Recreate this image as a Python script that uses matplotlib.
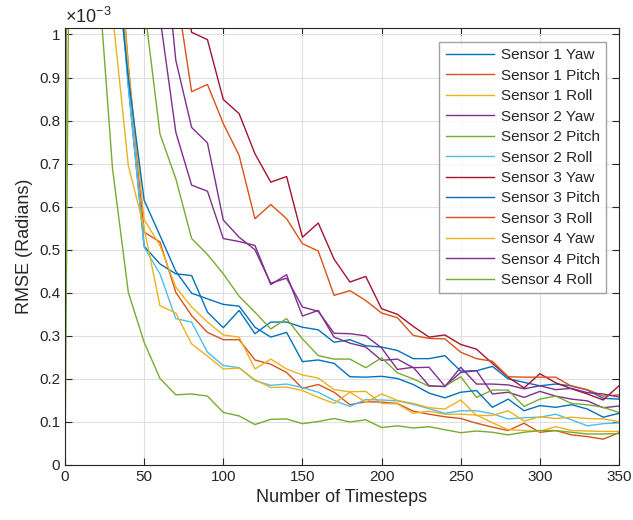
import matplotlib
matplotlib.use("Agg")
import matplotlib.pyplot as plt

plt.rcParams['font.family'] = ['Liberation Sans', 'DejaVu Sans']
plt.rcParams['mathtext.default'] = 'regular'

# timesteps
timesteps = [0, 10, 20, 30, 40, 50, 60, 70, 80, 90, 100, 110, 120, 130, 140, 150, 160, 170,
             180, 190, 200, 210, 220, 230, 240, 250, 260, 270, 280, 290, 300, 310, 320, 330, 340, 350]

# RMSE values in units of 1e-3 radians
s1_yaw = [0, 25, 6, 1.35, 0.88, 0.508, 0.467, 0.444, 0.440, 0.355, 0.319, 0.359, 0.305, 0.332, 0.332,
          0.320, 0.314, 0.285, 0.291, 0.277, 0.274, 0.266, 0.247, 0.247, 0.254, 0.218, 0.219, 0.229,
          0.200, 0.192, 0.184, 0.188, 0.184, 0.174, 0.155, 0.153]
s1_pitch = [0, 28, 6.5, 1.4, 0.93, 0.541, 0.518, 0.401, 0.347, 0.308, 0.291, 0.291, 0.244, 0.234, 0.215,
            0.178, 0.187, 0.169, 0.140, 0.147, 0.146, 0.143, 0.125, 0.118, 0.112, 0.108, 0.097, 0.088,
            0.080, 0.097, 0.076, 0.080, 0.070, 0.066, 0.060, 0.075]
s1_roll = [0, 27, 6, 1.4, 0.92, 0.57, 0.51, 0.413, 0.367, 0.332, 0.302, 0.297, 0.223, 0.246, 0.223,
           0.209, 0.202, 0.175, 0.170, 0.171, 0.143, 0.142, 0.120, 0.125, 0.118, 0.118, 0.116, 0.098,
           0.082, 0.080, 0.078, 0.089, 0.080, 0.079, 0.078, 0.078]
s2_yaw = [0, 35, 9, 3, 1.8, 1.3, 1.04, 0.773, 0.650, 0.636, 0.526, 0.519, 0.510, 0.419, 0.442,
          0.346, 0.359, 0.297, 0.283, 0.274, 0.243, 0.246, 0.226, 0.227, 0.183, 0.215, 0.219, 0.165,
          0.169, 0.157, 0.171, 0.160, 0.153, 0.149, 0.133, 0.137]
s2_pitch = [0, 30, 8, 2.5, 1.5, 1.07, 0.769, 0.665, 0.526, 0.489, 0.444, 0.392, 0.355, 0.316, 0.340,
            0.293, 0.254, 0.246, 0.246, 0.226, 0.249, 0.214, 0.200, 0.183, 0.183, 0.205, 0.157, 0.174,
            0.174, 0.136, 0.153, 0.160, 0.143, 0.140, 0.134, 0.122]
s2_roll = [0, 26, 6, 1.3, 0.88, 0.506, 0.444, 0.340, 0.332, 0.262, 0.231, 0.226, 0.196, 0.185, 0.188,
           0.180, 0.169, 0.150, 0.136, 0.152, 0.151, 0.149, 0.141, 0.131, 0.120, 0.126, 0.126, 0.119,
           0.107, 0.110, 0.111, 0.118, 0.105, 0.091, 0.096, 0.098]
s3_yaw = [0, 40, 12, 4, 2.2, 1.6, 1.35, 1.2, 1.005, 0.988, 0.849, 0.816, 0.723, 0.657, 0.670,
          0.529, 0.562, 0.478, 0.425, 0.438, 0.363, 0.350, 0.322, 0.297, 0.302, 0.280, 0.269, 0.236,
          0.204, 0.179, 0.212, 0.191, 0.177, 0.165, 0.151, 0.184]
s3_pitch = [0, 30, 7, 1.25, 0.90, 0.615, 0.533, 0.45, 0.399, 0.386, 0.373, 0.369, 0.320, 0.297, 0.308,
            0.240, 0.244, 0.236, 0.205, 0.204, 0.206, 0.201, 0.187, 0.167, 0.156, 0.169, 0.173, 0.134,
            0.153, 0.126, 0.138, 0.134, 0.140, 0.130, 0.111, 0.120]
s3_roll = [0, 38, 11, 3.5, 2.0, 1.5, 1.25, 1.11, 0.867, 0.884, 0.793, 0.719, 0.572, 0.605, 0.572,
           0.514, 0.497, 0.394, 0.405, 0.382, 0.353, 0.342, 0.301, 0.294, 0.293, 0.262, 0.247, 0.241,
           0.205, 0.204, 0.204, 0.204, 0.183, 0.175, 0.160, 0.163]
s4_yaw = [0, 20, 4, 1.05, 0.696, 0.550, 0.370, 0.353, 0.281, 0.253, 0.223, 0.225, 0.198, 0.180, 0.181,
          0.173, 0.157, 0.143, 0.169, 0.146, 0.165, 0.150, 0.143, 0.133, 0.130, 0.151, 0.115, 0.115,
          0.126, 0.102, 0.112, 0.108, 0.111, 0.108, 0.107, 0.101]
s4_pitch = [0, 32, 8, 2.8, 1.7, 1.5, 1.31, 0.94, 0.784, 0.748, 0.569, 0.529, 0.50, 0.422, 0.434,
            0.367, 0.357, 0.306, 0.305, 0.300, 0.272, 0.222, 0.227, 0.184, 0.182, 0.227, 0.188, 0.188,
            0.186, 0.177, 0.184, 0.175, 0.178, 0.168, 0.165, 0.158]
s4_roll = [0, 4.8, 1.19, 0.689, 0.401, 0.285, 0.201, 0.163, 0.165, 0.160, 0.122, 0.114, 0.094, 0.106, 0.107,
           0.096, 0.101, 0.108, 0.100, 0.105, 0.087, 0.091, 0.086, 0.089, 0.082, 0.075, 0.079, 0.076,
           0.070, 0.076, 0.080, 0.080, 0.076, 0.072, 0.072, 0.073]

labels = ['Sensor 1 Yaw', 'Sensor 1 Pitch', 'Sensor 1 Roll', 'Sensor 2 Yaw', 'Sensor 2 Pitch',
          'Sensor 2 Roll', 'Sensor 3 Yaw', 'Sensor 3 Pitch', 'Sensor 3 Roll', 'Sensor 4 Yaw',
          'Sensor 4 Pitch', 'Sensor 4 Roll']
series = [s1_yaw, s1_pitch, s1_roll, s2_yaw, s2_pitch, s2_roll, s3_yaw, s3_pitch, s3_roll,
          s4_yaw, s4_pitch, s4_roll]
colors = ['#0072BD', '#D95319', '#EDB120', '#7E2F8E', '#77AC30', '#4DBEEE', '#A2142F',
          '#0072BD', '#D95319', '#EDB120', '#7E2F8E', '#77AC30']

fig = plt.figure(figsize=(6.33, 5.20), dpi=100)
ax = fig.add_axes([65/633, 55/520, (619-65)/633, (465-28)/520])

for vals, lab, c in zip(series, labels, colors):
    ax.plot(timesteps, vals, color=c, lw=1.0, label=lab)

ax.set_xlim(0, 350)
ax.set_ylim(0, 1.015)
ax.set_xticks(range(0, 351, 50))
ax.set_yticks([i / 10 for i in range(11)])
ax.set_yticklabels(['0', '0.1', '0.2', '0.3', '0.4', '0.5', '0.6', '0.7', '0.8', '0.9', '1'])

axc = '#262626'
ax.grid(True, color='#dfdfdf', lw=0.8)
ax.set_axisbelow(True)
for sp in ax.spines.values():
    sp.set_color(axc)
    sp.set_linewidth(0.8)
ax.tick_params(direction='in', length=5, width=0.8, colors=axc, labelsize=11,
               top=True, right=True, labelcolor=axc)

ax.set_xlabel('Number of Timesteps', fontsize=13, color=axc)
ax.set_ylabel('RMSE (Radians)', fontsize=13, color=axc)
fig.text(65/633, 1 - 23/520, r'$\times10^{-3}$', fontsize=13, color=axc,
         ha='left', va='baseline')

leg = ax.legend(loc='upper right', fontsize=11, frameon=True, fancybox=False,
                handlelength=3.2, handletextpad=0.4, labelspacing=0.42, borderpad=0.42,
                borderaxespad=0)
leg.set_bbox_to_anchor(((606 - 65) / 554, 1 - 14 / 437), transform=ax.transAxes)
leg.get_frame().set_edgecolor('#8c8c8c')
leg.get_frame().set_linewidth(1.0)
for t in leg.get_texts():
    t.set_color(axc)

fig.savefig('out.png', dpi=100)
